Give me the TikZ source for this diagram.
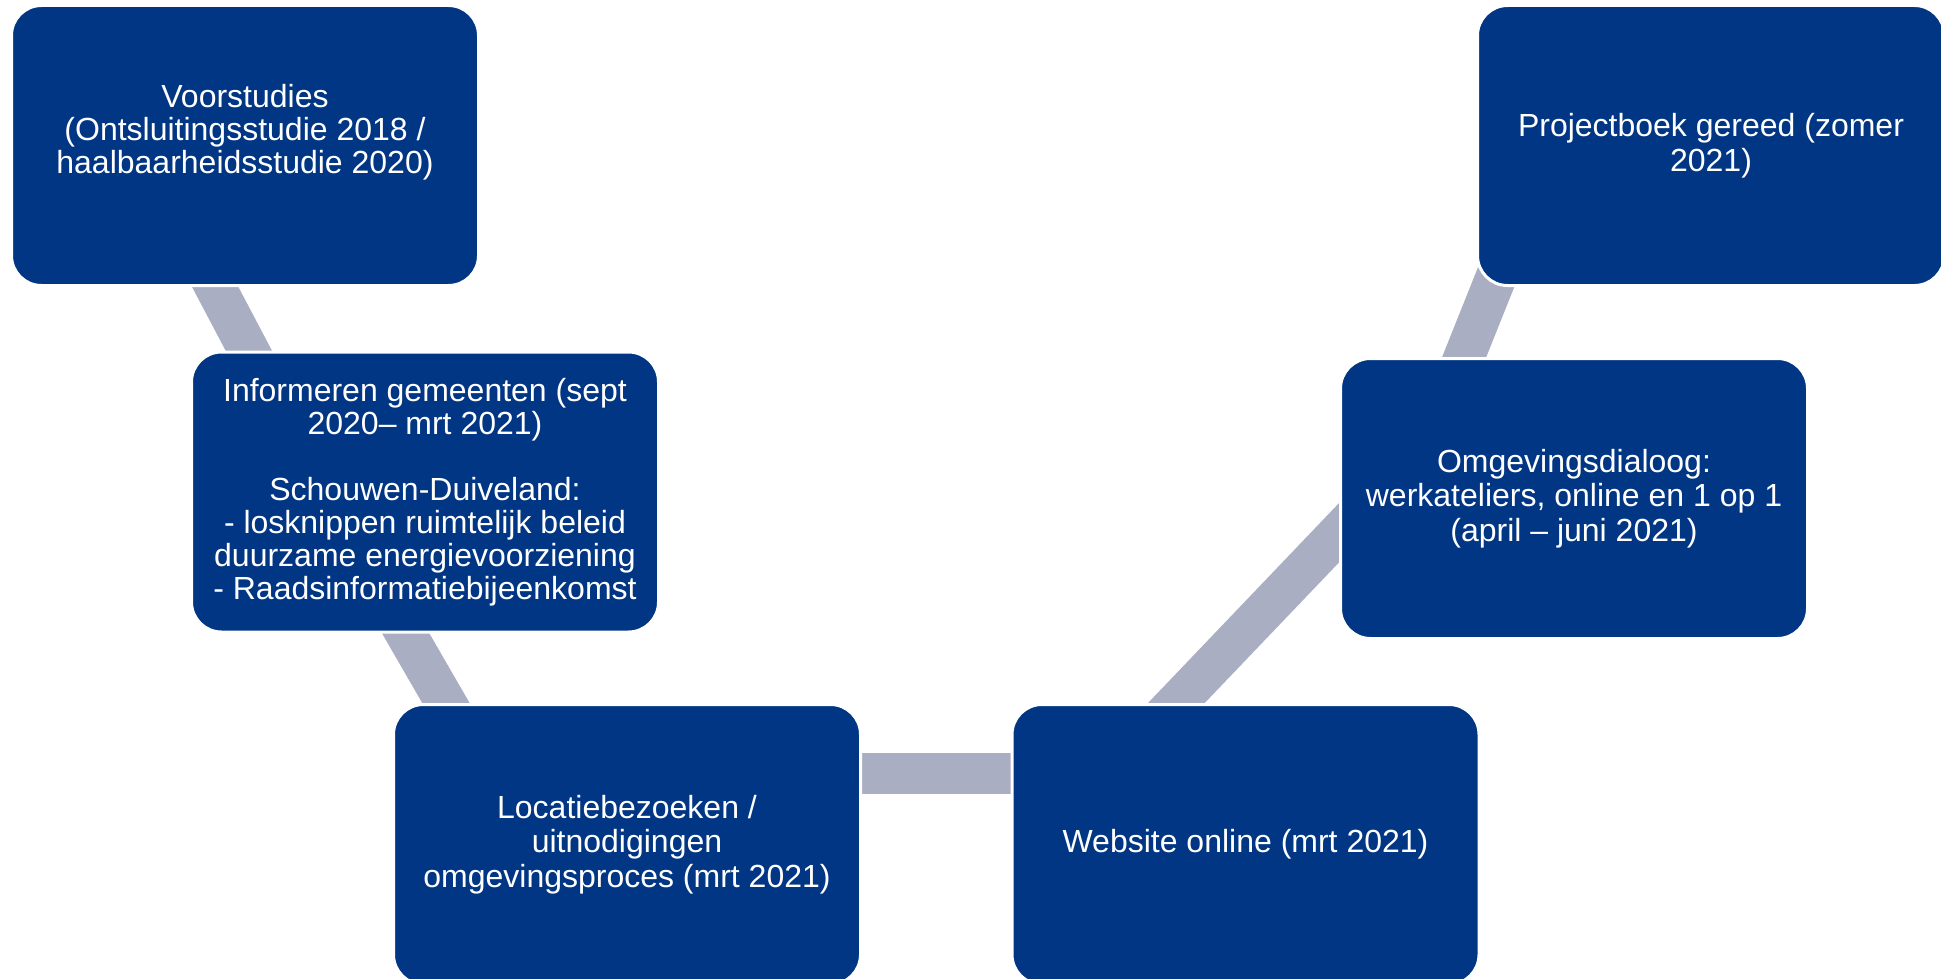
\documentclass[tikz,border=0pt]{standalone}
\usepackage{fontspec}
\setmainfont{Liberation Sans}
\usepackage{xcolor}
\usetikzlibrary{calc,backgrounds}
\definecolor{fasebl}{RGB}{0,54,131}
\definecolor{fasegr}{RGB}{170,174,195}
\tikzset{
  fasebox/.style={rectangle, rounded corners=30pt, fill=fasebl, draw=white,
                  line width=3pt, minimum width=467pt, minimum height=280pt,
                  inner sep=0pt, outer sep=0pt, align=center, text=white,
                  font=\fontsize{32}{33}\selectfont},
  fasewijd/.style={font=\fontsize{32}{34.5}\selectfont},
  faseband/.style={draw=fasegr, line width=41pt}
}

\begin{document}
\begin{tikzpicture}[x=1pt,y=-1pt]
  \useasboundingbox (0,0) rectangle (1941,979);
  \node[fasebox] (voor) at (245,145.5)
    {Voorstudies\\(Ontsluitingsstudie 2018 /\\haalbaarheidsstudie 2020)\\~};
  \node[fasebox] (info) at (425,492)
    {Informeren gemeenten (sept\\2020– mrt 2021)\\[33pt]Schouwen-Duiveland:\\- losknippen ruimtelijk beleid\\duurzame energievoorziening\\- Raadsinformatiebijeenkomst};
  \node[fasebox, fasewijd] (loca) at (627,844.5)
    {Locatiebezoeken /\\uitnodigingen\\omgevingsproces (mrt 2021)};
  \node[fasebox] (web) at (1245.5,844.5) {Website online (mrt 2021)};
  \node[fasebox, fasewijd] (omg) at (1574,498.5)
    {Omgevingsdialoog:\\werkateliers, online en 1 op 1\\(april – juni 2021)};
  \node[fasebox, fasewijd] (proj) at (1711,145.5) {Projectboek gereed (zomer\\2021)};
  % banden achter de vakken
  \begin{scope}[on background layer]
    \fill[white] (0,0) rectangle (1941,979);
    \draw[faseband] ($(voor.south)+(-49,-35)$) -- ($(info.north)+(-156,37)$);
    \draw[faseband] ($(info.south)+(-38,-31)$) -- ($(loca.north)+(-160,35)$);
    \draw[faseband] ($(loca.east)+(-30,-71)$) -- ($(web.west)+(30,-71)$);
    \draw[faseband] ($(web.north)+(-104,35)$) -- ($(omg.west)+(38.5,-7.6)$);
    \draw[faseband] ($(omg.north)+(-123,31.5)$) -- ($(proj.south)+(-204,-35.5)$);
  \end{scope}
\end{tikzpicture}
\end{document}
